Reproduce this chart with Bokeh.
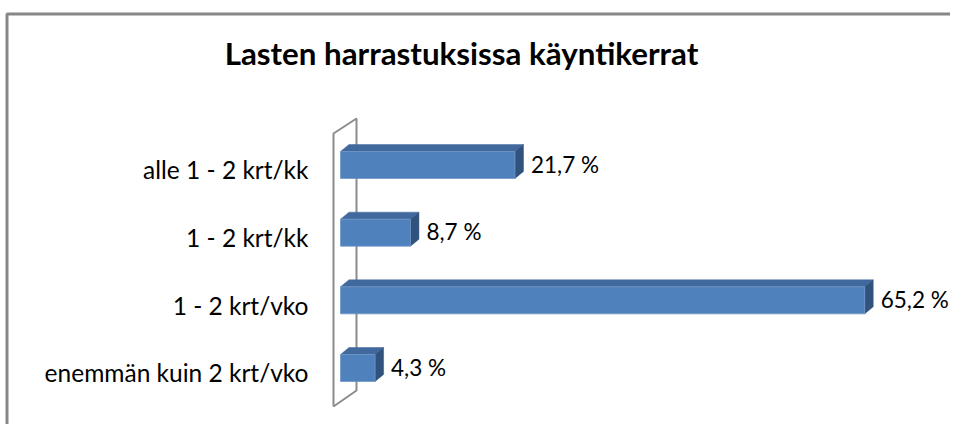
from bokeh.plotting import figure
from bokeh.models import Range1d, ColumnDataSource
from bokeh.core.properties import value
from bokeh.embed import file_html
from bokeh.resources import INLINE

# ---- data ----
categories = ["enemmän kuin 2 krt/vko", "1 - 2 krt/vko", "1 - 2 krt/kk", "alle 1 - 2 krt/kk"]
percent = [4.3, 65.2, 8.7, 21.7]
title_text = "Lasten harrastuksissa käyntikerrat"

# ---- layout constants (picture pixels) ----
W, H = 950, 424
ORG_X, ORG_Y = 0, 0                   # picture position of the canvas
X0_PX, PX_PER_UNIT = 340.0, 8.04      # value-0 position, px per percent
Y0_PX, PX_PER_CAT = 367.5, 67.67      # bar centre of first category, px per category
BAR_H_PX = 27.0
DEPTH_X_PX, DEPTH_Y_PX = 8.5, 7.0
LABEL_GAP_PX = 16.0
CAT_LABEL_RIGHT_PX = 308
TITLE_SIZE, CAT_SIZE, VAL_SIZE = 31.3, 24.5, 22.5
BASE_FIX = 0.42                        # renderer places baseline ~0.42em low
CAT_BASELINE_PX = 15.0 - BASE_FIX * CAT_SIZE
VAL_BASELINE_PX = 8.5 - BASE_FIX * VAL_SIZE
TITLE_X_PX, TITLE_BASE_PX = 461, 66 - BASE_FIX * TITLE_SIZE


def xd(px):
    return (px - X0_PX) / PX_PER_UNIT


def yd(py):
    return (Y0_PX - py) / PX_PER_CAT


FONT = "Lato"
FRONT = "#4f81bd"
TOP = "#41699d"
SIDE = "#30527d"

p = figure(width=W, height=H, output_backend="svg", toolbar_location=None,
           x_range=Range1d(xd(ORG_X), xd(ORG_X + W)),
           y_range=Range1d(yd(ORG_Y + H), yd(ORG_Y)),
           x_axis_location=None, y_axis_location=None,
           min_border=0, background_fill_color="white", border_fill_color="white")
p.outline_line_color = None
p.grid.visible = False

# chart-area border (top and left visible)
p.line([xd(6.5), xd(6.5), xd(ORG_X + W + 5)],
       [yd(ORG_Y + H + 5), yd(13.5), yd(13.5)],
       line_color="#878787", line_width=3)

# title
p.text(x=[xd(TITLE_X_PX)], y=[yd(TITLE_BASE_PX)], text=[title_text],
       text_align="center", text_baseline="alphabetic",
       text_font=value(FONT), text_font_style="bold", text_font_size=f"{TITLE_SIZE}px",
       text_color="black")

ypos = list(range(len(categories)))

# category labels
p.text(x=[xd(CAT_LABEL_RIGHT_PX)] * len(categories),
       y=[y - CAT_BASELINE_PX / PX_PER_CAT for y in ypos], text=categories,
       text_align="right", text_baseline="alphabetic",
       text_font=value(FONT), text_font_size=f"{CAT_SIZE}px", text_color="black")

# 3D wall outline
wx = [xd(333), xd(333), xd(356), xd(356), xd(333)]
wy = [yd(406), yd(133), yd(118), yd(390), yd(406)]
p.line(wx, wy, line_color="#8c8c8c", line_width=2)

# bars
dx = DEPTH_X_PX / PX_PER_UNIT
dy = DEPTH_Y_PX / PX_PER_CAT
hh = BAR_H_PX / PX_PER_CAT / 2
bottoms = [y - hh for y in ypos]
tops = [y + hh for y in ypos]

top_xs = [[0, v, v + dx, dx] for v in percent]
top_ys = [[t, t, t + dy, t + dy] for t in tops]
side_xs = [[v, v + dx, v + dx, v] for v in percent]
side_ys = [[b, b + dy, t + dy, t] for b, t in zip(bottoms, tops)]

p.patches(top_xs, top_ys, fill_color=TOP, line_color=TOP, line_width=0.5)
p.patches(side_xs, side_ys, fill_color=SIDE, line_color=SIDE, line_width=0.5)
p.quad(left=0, right=percent, bottom=bottoms, top=tops,
       fill_color=FRONT, line_color="#6f97c8", line_width=0.8)

# value labels
labels = [f"{v:.1f}".replace(".", ",") + " %" for v in percent]
src = ColumnDataSource(dict(x=[v + LABEL_GAP_PX / PX_PER_UNIT for v in percent],
                            y=[y - VAL_BASELINE_PX / PX_PER_CAT for y in ypos],
                            text=labels))
p.text(x="x", y="y", text="text", source=src, text_baseline="alphabetic",
       text_align="left", text_font=value(FONT), text_font_size=f"{VAL_SIZE}px",
       text_color="black")

open("out.html", "w").write(file_html(p, INLINE))
